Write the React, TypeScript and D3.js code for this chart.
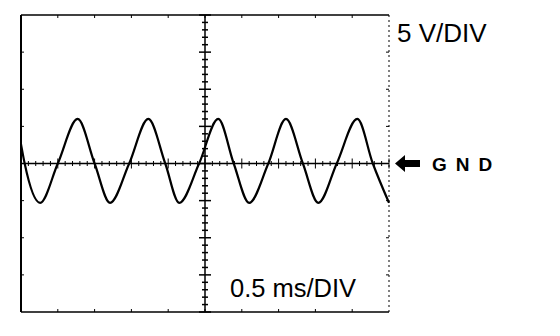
import React from "react";
import * as d3 from "d3";

// Oscilloscope trace: time (ms) and voltage (V)
const timeMs = [0, 0.05, 0.26, 0.5, 0.77, 1.0, 1.21, 1.47, 1.73, 1.96, 2.15, 2.42, 2.68, 2.89, 3.1, 3.36, 3.6, 3.83, 4.04, 4.29, 4.57, 4.78, 5.0];
const volts = [2.6, 0, -5.3, 0, 6.0, 0, -5.3, 0, 6.0, 0, -5.3, 0, 6.0, 0, -5.3, 0, 6.0, 0, -5.3, 0, 6.0, 0, -5.3];

const timeDomain = [0, 5]; // 10 div × 0.5 ms
const voltDomain = [-20, 20]; // 8 div × 5 V
const timeMajor = d3.range(0, 5.0001, 0.5);
const timeMinor = d3.range(0, 5.0001, 0.1);
const voltMajor = d3.range(-20, 20.0001, 5);
const voltMinor = d3.range(-20, 20.0001, 1);

const voltLabel = "5 V/DIV";
const timeLabel = "0.5 ms/DIV";
const gndLabel = "GND";

export default function App() {
  const W = 560, H = 336;
  const x = d3.scaleLinear().domain(timeDomain).range([21, 389]);
  const y = d3.scaleLinear().domain(voltDomain).range([312, 15]);
  const x0 = x(0), x1 = x(5), y0 = y(20), y1 = y(-20);
  const xc = x(2.5), yc = y(0);

  const line = d3
    .line<number>()
    .x((_, i) => x(timeMs[i]))
    .y((v) => y(v))
    .curve(d3.curveMonotoneX);
  const wave = line(volts) || "";

  const font = "'Liberation Sans', Arial, Helvetica, sans-serif";

  return (
    <svg width={W} height={H} style={{ position: "absolute", left: 0, top: 0, background: "#fff" }}>
      <rect width={W} height={H} fill="#fff" />
      {/* frame */}
      <line x1={x0} y1={y0} x2={x0} y2={y1} stroke="#000" strokeWidth={2} />
      <line x1={x0} y1={y0} x2={x1} y2={y0} stroke="#000" strokeWidth={1.5} />
      <line x1={x0} y1={y1} x2={x1} y2={y1} stroke="#000" strokeWidth={1.5} />
      <line x1={x1} y1={y0} x2={x1} y2={y1} stroke="#000" strokeWidth={1} strokeDasharray="2 3" />
      {/* edge ticks */}
      {voltMajor.slice(1, -1).map((v) => (
        <g key={"ev" + v}>
          <line x1={x0} x2={x0 + 3} y1={y(v)} y2={y(v)} stroke="#000" strokeWidth={1} />
          <line x1={x1} x2={x1 - 3} y1={y(v)} y2={y(v)} stroke="#000" strokeWidth={1} />
        </g>
      ))}
      {timeMajor.slice(1, -1).map((t) => (
        <g key={"et" + t}>
          <line x1={x(t)} x2={x(t)} y1={y0} y2={y0 + 3} stroke="#000" strokeWidth={1} />
          <line x1={x(t)} x2={x(t)} y1={y1} y2={y1 - 3} stroke="#000" strokeWidth={1} />
        </g>
      ))}
      {/* centre vertical axis */}
      <line x1={xc} y1={y0} x2={xc} y2={y1} stroke="#000" strokeWidth={1.5} />
      {voltMinor.map((v) => {
        const major = v % 5 === 0;
        const len = major ? 6 : 3;
        return <line key={"vm" + v} x1={xc - len} x2={xc + len} y1={y(v)} y2={y(v)} stroke="#000" strokeWidth={1.5} />;
      })}
      {/* GND horizontal axis */}
      <line x1={x0} y1={yc} x2={x1} y2={yc} stroke="#000" strokeWidth={1.5} />
      {timeMinor.map((t, i) => {
        const major = i % 5 === 0;
        const len = major ? 5 : 2.5;
        return <line key={"tm" + i} x1={x(t)} x2={x(t)} y1={yc - len} y2={yc + len} stroke="#000" strokeWidth={1} />;
      })}
      {/* waveform */}
      <path d={wave} fill="none" stroke="#000" strokeWidth={2.2} strokeLinejoin="round" />
      {/* labels */}
      <text x={397} y={42} fontFamily={font} fontSize={26} fill="#000">{voltLabel}</text>
      <text x={230} y={297} fontFamily={font} fontSize={25.5} fill="#000">{timeLabel}</text>
      <path
        d={`M395,${yc} L405,${yc - 8.5} L405,${yc - 3.5} L420,${yc - 3.5} L420,${yc + 3.5} L405,${yc + 3.5} L405,${yc + 8.5} Z`}
        fill="#000"
      />
      <text x={432} y={171} fontFamily={font} fontSize={19} fontWeight="bold" letterSpacing={9} fill="#000">{gndLabel}</text>
    </svg>
  );
}
